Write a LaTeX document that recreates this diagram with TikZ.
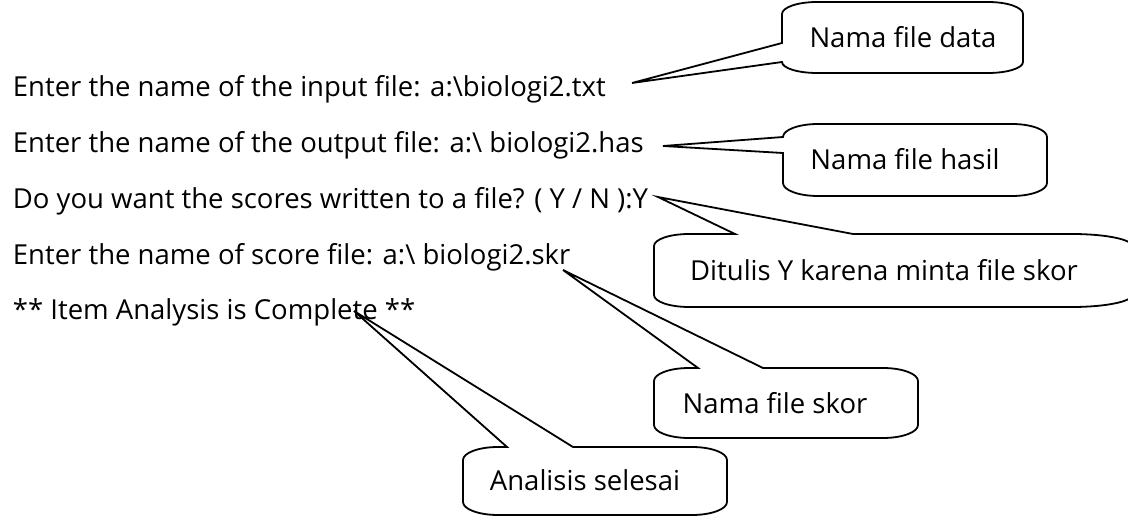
\documentclass[tikz,border=0pt]{standalone}
\usepackage{fontspec}
\setmainfont{Open Sans}
\usetikzlibrary{positioning}

\begin{document}
\begin{tikzpicture}[x=1pt,y=1pt,line width=1.8pt,
  prompt/.style={anchor=base west,inner sep=0pt,font=\fontsize{27.5}{33}\selectfont},
  note/.style={inner sep=0pt,font=\fontsize{27.5}{33}\selectfont},
  balloon/.style={draw,line join=miter}]
 \useasboundingbox (0,0) rectangle (1128,517);
 % the dialogue on screen
 \node[prompt] (input) at (12,420) {Enter the name of the input file: a:\textbackslash biologi2.txt};
 \node[prompt] (output) at (12,364) {Enter the name of the output file: a:\textbackslash\ biologi2.has};
 \node[prompt] (ask) at (12,308) {Do you want the scores written to a file? ( Y / N ):Y};
 \node[prompt] (score) at (12,252) {Enter the name of score file: a:\textbackslash\ biologi2.skr};
 \node[prompt] (done) at (12,197) {** Item Analysis is Complete **};
 % where the balloons point
 \coordinate (tipdata) at (632,434);
 \coordinate (tiphasil) at (663,371);
 \coordinate (tipY) at (658,320);
 \coordinate (tipskor) at (563,247);
 \coordinate (tipdone) at (354,206);
 % balloons
 \draw[balloon] (782,474) -- (tipdata) -- (782,455) arc[start angle=180,end angle=270,x radius=35,y radius=11]
   -- (988,444) arc[start angle=270,end angle=360,x radius=35,y radius=11]
   -- (1023,503) arc[start angle=0,end angle=90,x radius=35,y radius=12]
   -- (817,515) arc[start angle=90,end angle=180,x radius=35,y radius=12] -- cycle;
 \node[note] (data) at (903,480) {Nama file data};

 \draw[balloon] (783,380) -- (tiphasil) -- (783,364) -- (783,334) arc[start angle=180,end angle=270,x radius=35,y radius=13]
   -- (1012,321) arc[start angle=270,end angle=360,x radius=35,y radius=13]
   -- (1047,380) arc[start angle=0,end angle=90,x radius=35,y radius=13]
   -- (818,393) arc[start angle=90,end angle=180,x radius=35,y radius=13] -- cycle;
 \node[note] (hasil) at (905,358) {Nama file hasil};

 \draw[balloon] (735,283) -- (tipY) -- (853,283) -- (1072,283) arc[start angle=90,end angle=0,x radius=60,y radius=12]
   -- (1132,222) arc[start angle=0,end angle=-90,x radius=60,y radius=12]
   -- (689,210) arc[start angle=270,end angle=180,x radius=35,y radius=12]
   -- (654,271) arc[start angle=180,end angle=90,x radius=35,y radius=12] -- cycle;
 \node[note] (why) at (884,247) {Ditulis Y karena minta file skor};

 \draw[balloon] (698,149) -- (tipskor) -- (763,149) -- (883,149) arc[start angle=90,end angle=0,x radius=35,y radius=13]
   -- (918,92) arc[start angle=0,end angle=-90,x radius=35,y radius=13]
   -- (689,79) arc[start angle=270,end angle=180,x radius=35,y radius=13]
   -- (654,136) arc[start angle=180,end angle=90,x radius=35,y radius=13] -- cycle;
 \node[note] (skor) at (775,114) {Nama file skor};

 \draw[balloon] (507,70) -- (tipdone) -- (573,70) -- (692,70) arc[start angle=90,end angle=0,x radius=35,y radius=13]
   -- (727,15) arc[start angle=0,end angle=-90,x radius=35,y radius=13]
   -- (498,2) arc[start angle=270,end angle=180,x radius=35,y radius=13]
   -- (463,57) arc[start angle=180,end angle=90,x radius=35,y radius=13] -- cycle;
 \node[note] (selesai) at (585,37) {Analisis selesai};
\end{tikzpicture}
\end{document}
